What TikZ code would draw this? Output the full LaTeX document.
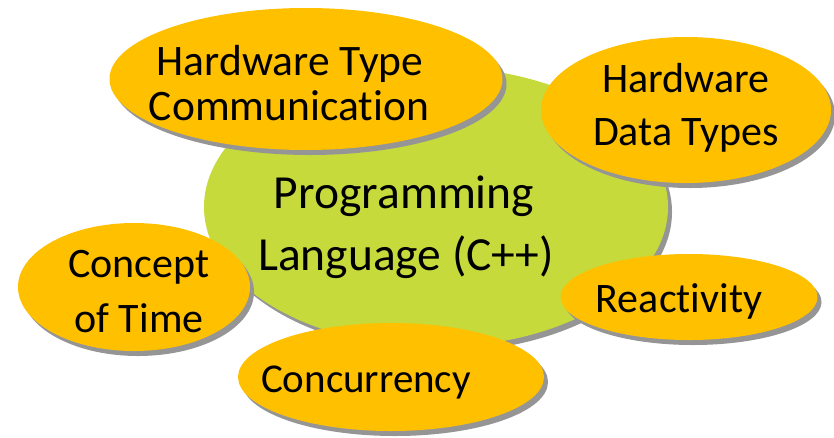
\documentclass[tikz,border=0pt]{standalone}
\usepackage{fontspec}
\setmainfont{Carlito}[Ligatures=NoCommon]
\usetikzlibrary{shapes.geometric,shadows}
\definecolor{orangefill}{HTML}{FFC000}
\definecolor{greenfill}{HTML}{C6DA3C}
\definecolor{shadowgray}{HTML}{959595}
\begin{document}
\begin{tikzpicture}[x=1pt,y=-1pt,
  blob/.style={ellipse, inner sep=0pt, draw=none,
    drop shadow={shadow xshift=4pt, shadow yshift=-5pt, fill=shadowgray, opacity=1}},
  orangeblob/.style={blob, fill=orangefill},
  greenblob/.style={blob, fill=greenfill},
  lbl/.style={anchor=base, inner sep=0pt, font=\fontsize{42}{50}\selectfont},
  biglbl/.style={anchor=base, inner sep=0pt, font=\fontsize{47.5}{56}\selectfont}
]
\useasboundingbox (0,0) rectangle (834,437);
% central ellipse
\node[greenblob, minimum width=464pt, minimum height=280pt] (prog) at (436,207) {};
% satellites
\node[orangeblob, minimum width=393pt, minimum height=142pt] (htc) at (306,79) {};
\node[orangeblob, minimum width=290pt, minimum height=146pt] (hdt) at (686,110) {};
\node[orangeblob, minimum width=232pt, minimum height=128pt] (cot) at (134,287) {};
\node[orangeblob, minimum width=257pt, minimum height=86pt] (rea) at (689,297) {};
\node[orangeblob, minimum width=306pt, minimum height=108pt] (con) at (391,377) {};
% labels
\node[biglbl] (prog1) at (404,208) {Programming};
\node[biglbl] (prog2) at (406,270) {Language (C++)};
\node[lbl, font=\fontsize{43.5}{50}\selectfont] (htc1) at (290,75) {Hardware Type};
\node[lbl, font=\fontsize{43.5}{50}\selectfont] (htc2) at (289,120) {Communication};
\node[lbl] (hdt1) at (686,92) {Hardware};
\node[lbl] (hdt2) at (686,145) {Data Types};
\node[lbl] (cot1) at (139,277) {Concept};
\node[lbl] (cot2) at (139,332) {of Time};
\node[lbl] (rea1) at (679,312) {Reactivity};
\node[lbl, font=\fontsize{41}{50}\selectfont] (con1) at (366,392) {Concurrency};
\end{tikzpicture}
\end{document}
